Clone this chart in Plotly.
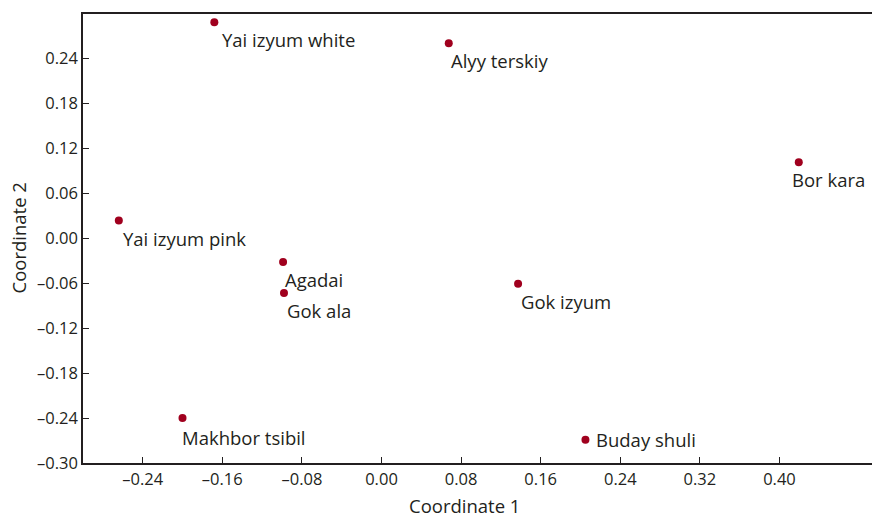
import plotly.graph_objects as go

names = ["Yai izyum white", "Alyy terskiy", "Bor kara", "Yai izyum pink", "Agadai",
         "Gok ala", "Gok izyum", "Makhbor tsibil", "Buday shuli"]
coord1 = [-0.168, 0.0676, 0.4194, -0.264, -0.0989, -0.098, 0.1373, -0.200, 0.205]
coord2 = [0.288, 0.260, 0.1013, 0.0235, -0.032, -0.0733, -0.061, -0.240, -0.269]

x_ticks = [-0.24, -0.16, -0.08, 0.00, 0.08, 0.16, 0.24, 0.32, 0.40]
y_ticks = [-0.30, -0.24, -0.18, -0.12, -0.06, 0.00, 0.06, 0.12, 0.18, 0.24]

# label placement (pixel offsets from the dot, and vertical anchor)
label_place = {
    "Yai izyum white": (6, -3, "top"),
    "Alyy terskiy": (0, -3, "top"),
    "Bor kara": (-9, -3, "top"),
    "Yai izyum pink": (2, -3, "top"),
    "Agadai": (0, -3, "top"),
    "Gok ala": (1, -3, "top"),
    "Gok izyum": (1, -3, "top"),
    "Makhbor tsibil": (-3, -5, "top"),
    "Buday shuli": (9, 0, "middle"),
}

def fmt(v):
    s = f"{abs(v):.2f}"
    return ("\u2013" + s) if v < 0 else s

FONT = "Open Sans"
INK = "#231f20"
DOT = "#a0001e"
FS_TICK = 16.5
FS_LAB = 18.5

fig = go.Figure()
fig.add_trace(go.Scatter(x=coord1, y=coord2, mode="markers",
                         marker=dict(color=DOT, size=8), hoverinfo="skip",
                         showlegend=False))

for n, x, y in zip(names, coord1, coord2):
    dx, dy, ya = label_place[n]
    fig.add_annotation(x=x, y=y, text=n, showarrow=False, xanchor="left",
                       yanchor=ya, xshift=dx, yshift=dy,
                       font=dict(family=FONT, size=FS_LAB, color=INK))

fig.add_annotation(xref="paper", yref="paper", x=0.483, y=0, yshift=-42,
                   text="Coordinate 1", showarrow=False, xanchor="center",
                   yanchor="middle", font=dict(family=FONT, size=FS_LAB, color=INK))
fig.add_annotation(xref="paper", yref="paper", x=0, xshift=-65, y=0.5,
                   text="Coordinate 2", showarrow=False, textangle=-90,
                   xanchor="center", yanchor="middle",
                   font=dict(family=FONT, size=FS_LAB, color=INK))

fig.update_layout(
    width=872, height=517,
    margin=dict(l=83, r=0, t=14, b=54, autoexpand=False),
    paper_bgcolor="white", plot_bgcolor="white",
    font=dict(family=FONT, color=INK),
    xaxis=dict(range=[-0.30, 0.493], tickvals=x_ticks, automargin=False,
               ticktext=[fmt(v) for v in x_ticks], ticks="inside", ticklen=6,
               tickwidth=1.3, tickcolor=INK, showgrid=False, zeroline=False,
               showline=True, linecolor=INK, linewidth=1.5, mirror=True,
               tickfont=dict(family=FONT, size=FS_TICK, color=INK)),
    yaxis=dict(range=[-0.30, 0.299], tickvals=y_ticks, automargin=False,
               ticktext=[fmt(v) for v in y_ticks], ticks="inside", ticklen=6,
               tickwidth=1.3, tickcolor=INK, showgrid=False, zeroline=False,
               showline=True, linecolor=INK, linewidth=1.5,
               tickfont=dict(family=FONT, size=FS_TICK, color=INK)),
)

fig.write_html("out.html", config={"displayModeBar": False},
               post_script="document.body.style.margin='0px';document.body.style.overflow='hidden';")
